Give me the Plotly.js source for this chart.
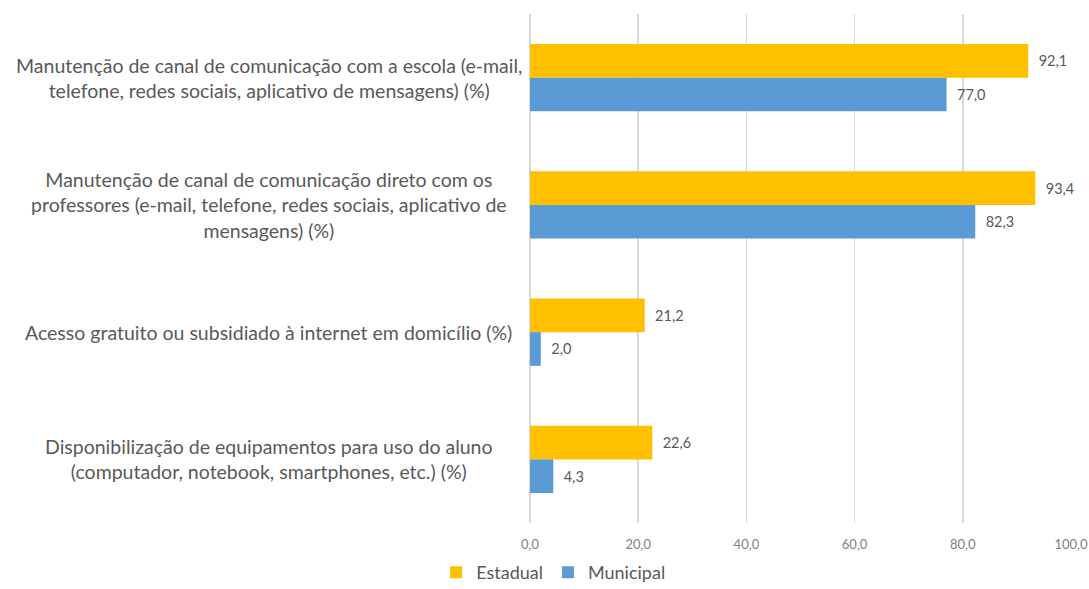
<!DOCTYPE html>
<html>
<head>
<meta charset="utf-8">
<script src="https://cdn.plot.ly/plotly-3.0.1.min.js"></script>
<style>html,body{margin:0;padding:0;background:#fff;}#chart{width:1089px;height:589px;}</style>
</head>
<body>
<div id="chart"></div>
<script>
const categories = [
  "Manutenção de canal de comunicação com a escola (e-mail,<br>telefone, redes sociais, aplicativo de mensagens) (%)",
  "Manutenção de canal de comunicação direto com os<br>professores (e-mail, telefone, redes sociais, aplicativo de<br>mensagens) (%)",
  "Acesso gratuito ou subsidiado à internet em domicílio (%)",
  "Disponibilização de equipamentos para uso do aluno<br>(computador, notebook, smartphones, etc.) (%)"
];
const seriesNames = ["Estadual", "Municipal"];
const estadual = [92.1, 93.4, 21.2, 22.6];
const municipal = [77.0, 82.3, 2.0, 4.3];
const xTicks = [0, 20, 40, 60, 80, 100];

const catIds = categories.map((c, i) => "c" + i);
const font = "Lato, 'Open Sans', sans-serif";
const textColor = "#595959";

function barTrace(name, vals, color) {
  return {
    type: "bar", orientation: "h", name: name,
    x: vals, y: catIds,
    marker: {color: color},
    texttemplate: "  %{x:.1f}", textposition: "outside", cliponaxis: false,
    textfont: {family: font, size: 14.5, color: "#595959"},
    hoverinfo: "skip"
  };
}

const data = [
  barTrace(seriesNames[0], estadual, "#FFC000"),
  barTrace(seriesNames[1], municipal, "#5B9BD5")
];

const annotations = categories.map((c, i) => ({
  xref: "paper", yref: "y", x: -0.483, y: catIds[i],
  text: c, showarrow: false, xanchor: "center", yanchor: "middle", align: "center",
  font: {family: font, size: 19.5, color: textColor}
}));

const layout = {
  width: 1089, height: 589,
  margin: {l: 530, r: 18, t: 14, b: 66},
  paper_bgcolor: "#fff", plot_bgcolor: "#fff",
  separators: ", ",
  barmode: "group", bargap: 0.47, bargroupgap: 0,
  showlegend: true,
  legend: {
    orientation: "h", xref: "container", yref: "container",
    x: 0.508, xanchor: "center", y: 0.028, yanchor: "middle",
    font: {family: font, size: 18, color: textColor},
    itemwidth: 30, tracegroupgap: 0
  },
  xaxis: {
    range: [0, 100], tickvals: xTicks, tickformat: ".1f",
    showgrid: true, gridcolor: "#d9d9d9", gridwidth: 1.5,
    zeroline: true, zerolinecolor: "#d9d9d9", zerolinewidth: 1.5,
    showline: false, ticks: "", ticklabelstandoff: 12,
    tickfont: {family: font, size: 13, color: "#7f7f7f"},
    fixedrange: true
  },
  yaxis: {
    type: "category", autorange: "reversed",
    showticklabels: false, showgrid: false, zeroline: false, showline: false, ticks: "",
    fixedrange: true
  },
  annotations: annotations
};

Plotly.newPlot("chart", data, layout, {displayModeBar: false, staticPlot: true});
</script>
</body>
</html>
